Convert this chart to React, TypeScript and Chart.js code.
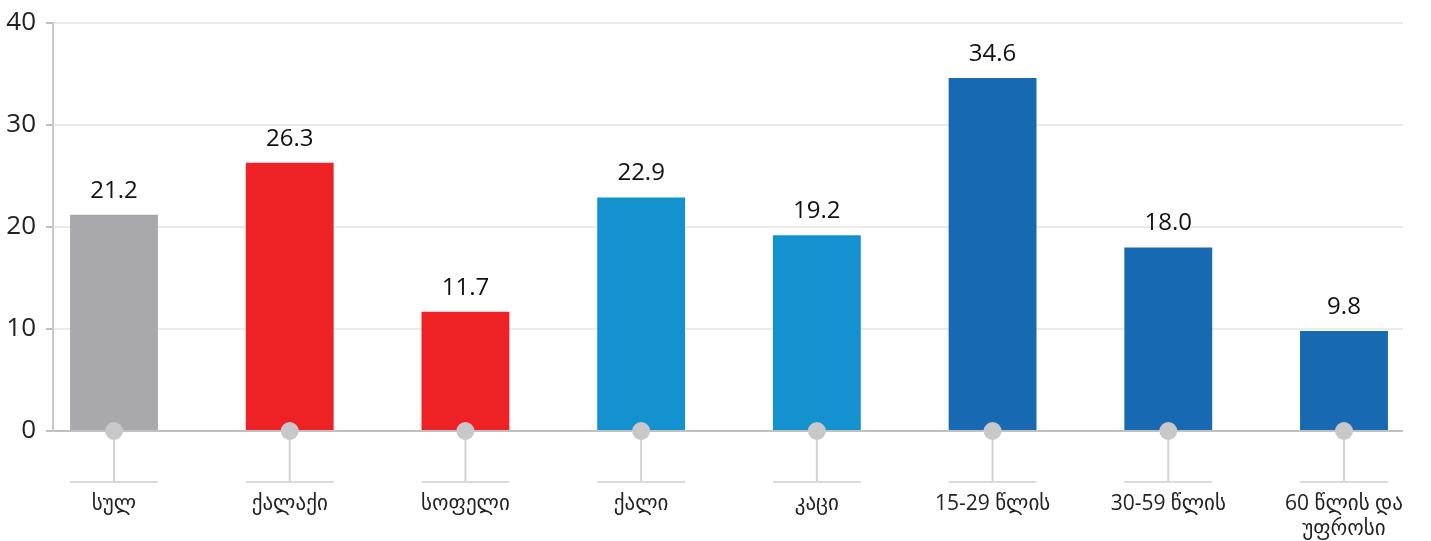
import React, { useEffect, useRef } from "react";
import { Chart, registerables } from "chart.js";

Chart.register(...registerables);

const categories: (string | string[])[] = [
  "სულ",
  "ქალაქი",
  "სოფელი",
  "ქალი",
  "კაცი",
  "15-29 წლის",
  "30-59 წლის",
  ["60 წლის და", "უფროსი"],
];
const values: number[] = [21.2, 26.3, 11.7, 22.9, 19.2, 34.6, 18.0, 9.8];
const barColors: string[] = [
  "#A9A8AC",
  "#EE2225",
  "#EE2225",
  "#1492D0",
  "#1492D0",
  "#1769B1",
  "#1769B1",
  "#1769B1",
];
const yTicks: number[] = [0, 10, 20, 30, 40];

const FONT = "'Open Sans', 'DejaVu Sans', sans-serif";

const decorPlugin = {
  id: "decor",
  afterDatasetsDraw(chart: any) {
    const ctx = chart.ctx;
    const meta = chart.getDatasetMeta(0);
    const yZero = chart.scales.y.getPixelForValue(0);
    ctx.save();
    meta.data.forEach((bar: any, i: number) => {
      const x = bar.x;
      const half = bar.width / 2;
      // stem
      ctx.strokeStyle = "#d3d3d3";
      ctx.lineWidth = 2;
      ctx.beginPath();
      ctx.moveTo(x, yZero);
      ctx.lineTo(x, yZero + 51);
      ctx.stroke();
      // horizontal base line
      ctx.strokeStyle = "#dadada";
      ctx.beginPath();
      ctx.moveTo(x - half, yZero + 51);
      ctx.lineTo(x + half, yZero + 51);
      ctx.stroke();
      // dot
      ctx.fillStyle = "#c8c8ca";
      ctx.beginPath();
      ctx.arc(x, yZero, 9, 0, Math.PI * 2);
      ctx.fill();
      // value label
      ctx.fillStyle = "#111";
      ctx.font = `24px ${FONT}`;
      ctx.textAlign = "center";
      ctx.textBaseline = "alphabetic";
      ctx.fillText(values[i].toFixed(1), x, bar.y - 17);
    });
    ctx.restore();
  },
};

export default function App() {
  const ref = useRef<HTMLCanvasElement>(null);
  useEffect(() => {
    document.body.style.margin = "0";
    const chart = new Chart(ref.current!, {
      type: "bar",
      data: {
        datasets: [
          {
            data: values.map((v, i) => ({ x: i, y: v })) as any,
            backgroundColor: barColors,
            barPercentage: 0.5,
            categoryPercentage: 1,
          },
        ],
      },
      options: {
        animation: false,
        responsive: false,
        maintainAspectRatio: false,
        layout: { padding: { top: 23, right: 28, left: 0, bottom: 0 } },
        plugins: { legend: { display: false }, tooltip: { enabled: false } },
        scales: {
          x: {
            type: "linear",
            offset: false,
            min: -0.3472,
            max: 7.3358,
            afterBuildTicks: (s: any) => {
              s.ticks = categories.map((_, i) => ({ value: i }));
            },
            afterFit: (s: any) => {
              s.height = 110;
              s.paddingLeft = 0;
              s.paddingRight = 0;
            },
            grid: { display: false, drawTicks: false },
            border: { display: false },
            ticks: {
              autoSkip: false,
              maxRotation: 0,
              padding: 60,
              color: "#222",
              font: { family: FONT, size: 21 },
              callback: (v: any) => categories[Math.round(Number(v))] as any,
            },
          },
          y: {
            min: 0,
            max: 40,
            afterBuildTicks: (s: any) => {
              s.ticks = yTicks.map((v) => ({ value: v }));
            },
            afterFit: (s: any) => {
              s.width = 53;
              s.paddingTop = 0;
              s.paddingBottom = 0;
            },
            grid: {
              color: (c: any) => (c.tick && c.tick.value === 0 ? "#c0c0c0" : "#ebebeb"),
              lineWidth: 2,
              tickLength: 7,
              tickColor: "#c0c0c0",
            },
            border: { display: true, color: "#c8c8c8", width: 2 },
            ticks: {
              padding: 10,
              color: "#222",
              font: { family: FONT, size: 26 },
            },
          },
        },
      },
      plugins: [decorPlugin],
    });
    return () => chart.destroy();
  }, []);
  return <canvas ref={ref} width={1431} height={541} style={{ display: "block" }} />;
}
